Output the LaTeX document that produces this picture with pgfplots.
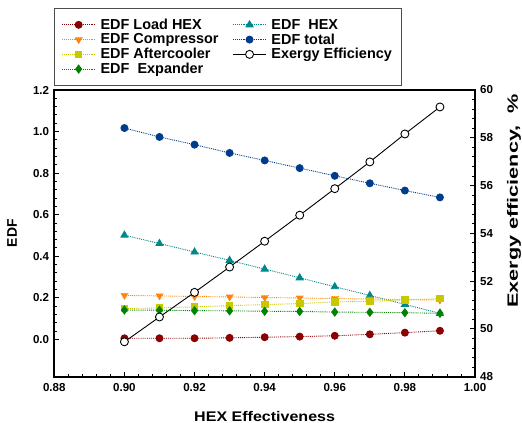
\documentclass[border=0pt]{standalone}
\usepackage{fontspec}
\setmainfont{Liberation Sans}
\usepackage{graphicx}
\usepackage{pgfplots}
\pgfplotsset{compat=1.18}
\definecolor{cLoad}{RGB}{140,0,0}
\definecolor{cComp}{RGB}{255,130,10}
\definecolor{cAfter}{RGB}{200,200,0}
\definecolor{cExp}{RGB}{0,130,0}
\definecolor{cHex}{RGB}{0,135,135}
\definecolor{cTot}{RGB}{0,60,140}
\begin{document}
\begin{tikzpicture}
\pgfplotsset{
 common/.style={width=420.7bp,height=286.7bp,scale only axis,at={(0,0)},anchor=south west,
  xmin=0.88,xmax=1.0,tick align=inside,major tick length=5bp,minor tick length=3bp,
  every tick/.style={black,line width=0.9bp},
  tick label style={font=\fontsize{11.6}{12}\selectfont\bfseries,inner sep=1bp},
  /pgf/number format/assume math mode=true,
  axis line style={line width=1.6bp},scaled ticks=false},
 edf/.style={densely dotted,line width=0.9bp,mark options={solid}},
}
\begin{axis}[common,
  ymin=-0.18,ymax=1.2,
  xtick={0.88,0.9,0.92,0.94,0.96,0.98,1.0},
  ytick={0,0.2,0.4,0.6,0.8,1.0,1.2},
  xticklabel style={yshift=-5.5bp,/pgf/number format/.cd,fixed,fixed zerofill,precision=2},
  yticklabel style={xshift=-4bp,/pgf/number format/.cd,fixed,fixed zerofill,precision=1},
  minor x tick num=4,minor y tick num=4,
  xtick pos=bottom,ytick pos=left,
  xlabel={\scalebox{1.15}[1]{HEX Effectiveness}},
  xlabel style={font=\fontsize{14}{14}\selectfont\bfseries,at={(axis description cs:0.5,0)},anchor=base,yshift=-44.3bp},
  ylabel={EDF},
  ylabel style={font=\fontsize{14}{14}\selectfont\bfseries,at={(axis description cs:-0.1005,0.5)},anchor=center},
  legend columns=2,
  legend cell align=left,
  legend style={at={(axis description cs:0,1)},anchor=south west,yshift=4bp,
    draw=gray!60!black,line width=0.8bp,inner xsep=7bp,inner ysep=8.5bp,
    nodes={inner sep=2bp,text depth=0.15em},column sep=3bp,row sep=-1.2bp,
    font=\fontsize{14.5}{14.5}\selectfont\bfseries,
    /tikz/every even column/.append style={column sep=12bp}},
  legend image code/.code={\draw[mark repeat=2,mark phase=2] plot coordinates {(0bp,0bp)(16.5bp,0bp)(33bp,0bp)};},
]
\addplot[edf,cLoad,mark=*,mark size=3.5bp] coordinates {(0.90,0.005)(0.91,0.005)(0.92,0.005)(0.93,0.007)(0.94,0.010)(0.95,0.013)(0.96,0.017)(0.97,0.024)(0.98,0.032)(0.99,0.041)};
\addlegendentry{EDF Load HEX}
\addplot[edf,cHex,mark=triangle*,mark size=4bp] coordinates {(0.90,0.501)(0.91,0.461)(0.92,0.420)(0.93,0.380)(0.94,0.338)(0.95,0.296)(0.96,0.253)(0.97,0.211)(0.98,0.168)(0.99,0.125)};
\addlegendentry{EDF\ \ HEX}
\addplot[edf,cComp,mark=triangle*,mark size=4bp,mark options={rotate=180}] coordinates {(0.90,0.211)(0.91,0.209)(0.92,0.206)(0.93,0.204)(0.94,0.201)(0.95,0.199)(0.96,0.196)(0.97,0.194)(0.98,0.191)(0.99,0.189)};
\addlegendentry{EDF Compressor}
\addplot[edf,cTot,mark=*,mark size=3.5bp] coordinates {(0.90,1.017)(0.91,0.974)(0.92,0.937)(0.93,0.897)(0.94,0.861)(0.95,0.824)(0.96,0.787)(0.97,0.751)(0.98,0.716)(0.99,0.683)};
\addlegendentry{EDF total}
\addplot[edf,cAfter,mark=square*,mark size=3.3bp] coordinates {(0.90,0.148)(0.91,0.151)(0.92,0.156)(0.93,0.162)(0.94,0.167)(0.95,0.172)(0.96,0.180)(0.97,0.183)(0.98,0.189)(0.99,0.196)};
\addlegendentry{EDF Aftercooler}
\addlegendimage{black,solid,line width=0.9bp,mark=*,mark size=4bp,mark options={fill=white,draw=black}}
\addlegendentry{Exergy Efficiency}
\addplot[edf,cExp,mark=diamond*,mark size=4bp] coordinates {(0.90,0.141)(0.91,0.140)(0.92,0.138)(0.93,0.137)(0.94,0.135)(0.95,0.134)(0.96,0.131)(0.97,0.130)(0.98,0.128)(0.99,0.125)};
\addlegendentry{EDF\ \ Expander}
\end{axis}
\begin{axis}[common,
  hide x axis,axis y line*=right,
  y axis line style={-,line width=1.6bp},
  ymin=48,ymax=60,ytick={48,50,52,54,56,58,60},minor y tick num=4,
  yticklabel style={xshift=4bp},
  ylabel={\scalebox{1.45}[1]{Exergy efficiency,\ \ \%}},
  ylabel style={font=\fontsize{15}{15}\selectfont\bfseries,at={(axis description cs:1.0927,0.613)},anchor=center},
]
\addplot[black,solid,line width=0.9bp,mark=*,mark size=4bp,mark options={fill=white,draw=black}] coordinates {(0.90,49.46)(0.91,50.50)(0.92,51.53)(0.93,52.59)(0.94,53.67)(0.95,54.76)(0.96,55.87)(0.97,56.99)(0.98,58.16)(0.99,59.29)};
\end{axis}
\pgfresetboundingbox
\useasboundingbox (-54.3bp,-46.3bp) rectangle (467.7bp,376.7bp);
\end{tikzpicture}
\end{document}
